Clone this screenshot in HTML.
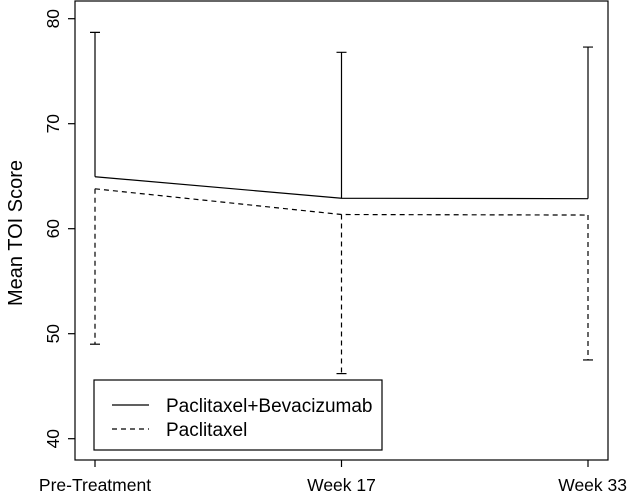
<!DOCTYPE html>
<html><head><meta charset="utf-8"><style>
html,body{margin:0;padding:0;background:#fff;}
svg{display:block;font-family:"Liberation Sans",Arial,sans-serif;}
</style></head><body>
<svg id="chart" width="628" height="493">
<rect x="75" y="1" width="533" height="459" fill="none" stroke="#000" stroke-width="1.2"/>
<text transform="translate(22,233) rotate(-90)" text-anchor="middle" font-size="20">Mean TOI Score</text>
<g id="axes"></g><g id="marks"></g>
<g>
<rect x="94" y="380" width="288" height="70" fill="#fff" stroke="#000" stroke-width="1.2"/>
<line x1="112" y1="405" x2="149" y2="405" stroke="#000" stroke-width="1.2"/>
<text x="166" y="412" font-size="19">Paclitaxel+Bevacizumab</text>
<line x1="112" y1="429" x2="149" y2="429" stroke="#000" stroke-width="1.2" stroke-dasharray="5,4"/>
<text x="166" y="436" font-size="19">Paclitaxel</text>
</g>
</svg>
<script>
const categories=["Pre-Treatment","Week 17","Week 33"];
const comboMean=[64.95,62.9,62.86];
const comboUpper=[78.7,76.8,77.3];
const pacMean=[63.8,61.35,61.3];
const pacLower=[49.0,46.2,47.5];
const yTicks=[40,50,60,70,80];
const NS="http://www.w3.org/2000/svg";
function y(v){return 438.7-(v-40)*10.5;}
function x(i){return 95+i*(588-95)/(categories.length-1);}
function mk(tag,attrs,parent){const e=document.createElementNS(NS,tag);for(const k in attrs)e.setAttribute(k,attrs[k]);document.getElementById(parent).appendChild(e);return e;}
yTicks.forEach(t=>{
 let l=mk("line",{x1:68,x2:75,y1:y(t),y2:y(t),stroke:"#000","stroke-width":1.2},"axes");
 
 
 let tx=mk("text",{transform:`translate(59,${y(t)}) rotate(-90)`,"text-anchor":"middle","font-size":17.5},"axes");
 tx.textContent=t;
 
 
});
categories.forEach((c,i)=>{
 let l=mk("line",{x1:x(i),x2:x(i),y1:460,y2:467,stroke:"#000","stroke-width":1.2},"axes");
 
 
 let last=i==categories.length-1;
 let tx=mk("text",{x:last?627:x(i),y:491,"text-anchor":last?"end":"middle","font-size":17.5},"axes");
 tx.textContent=c;
 
 
});
let p1=mk("polyline",{points:comboMean.map((v,i)=>x(i)+","+y(v)).join(" "),fill:"none",stroke:"#000","stroke-width":1.2},"marks");


let p2=mk("polyline",{points:pacMean.map((v,i)=>x(i)+","+y(v)).join(" "),fill:"none",stroke:"#000","stroke-width":1.2,"stroke-dasharray":"5,4"},"marks");


categories.forEach((c,i)=>{
 let e=mk("path",{d:`M${x(i)},${y(comboMean[i])}V${y(comboUpper[i])}M${x(i)-5},${y(comboUpper[i])}H${x(i)+5}`,fill:"none",stroke:"#000","stroke-width":1.2},"marks");
 
 
 let d=mk("path",{d:`M${x(i)},${y(pacMean[i])}V${y(pacLower[i])}`,fill:"none",stroke:"#000","stroke-width":1.2,"stroke-dasharray":"5,4"},"marks");
 
 
 let cap=mk("line",{x1:x(i)-5,x2:x(i)+5,y1:y(pacLower[i]),y2:y(pacLower[i]),stroke:"#000","stroke-width":1.2},"marks");
 
 
});
</script>
</body></html>
